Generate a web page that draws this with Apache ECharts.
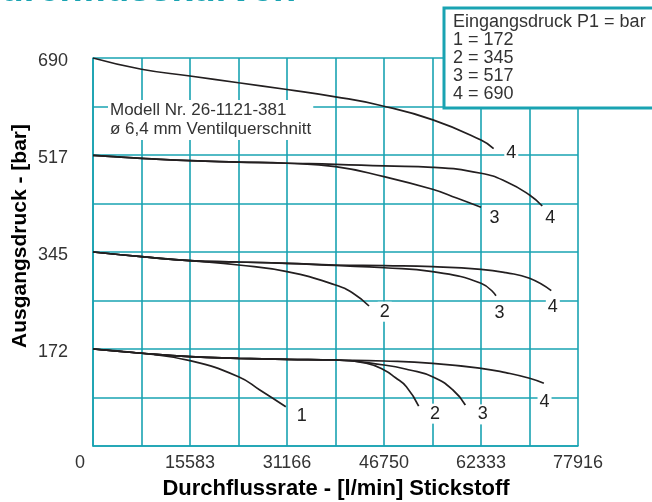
<!DOCTYPE html>
<html>
<head>
<meta charset="utf-8">
<script src="https://cdn.jsdelivr.net/npm/echarts@6/dist/echarts.min.js"></script>
<style>
  html, body { margin: 0; padding: 0; background: #fff; }
  #main { width: 652px; height: 502px; }
</style>
</head>
<body>
<div id="main"></div>
<script>
// Achsen
var xTickLabels = ['0', '15583', '31166', '46750', '62333', '77916']
var yTickLabels = ['', '172', '345', '517', '690']

// Kurven [Durchfluss l/min, Ausgangsdruck bar]
var p690_4 = [[0, 690], [7792, 670], [15583, 658], [23375, 646], [31166, 634], [38958, 621],
    [46060, 606], [54610, 580], [62333, 544], [64360, 529]]
var p517_4 = [[0, 517], [7792, 511.6], [15583, 507.4], [23375, 505], [31166, 502.8], [38958, 501],
    [46750, 498], [54541, 495.6], [62333, 485], [66395, 470], [70134, 446.4], [72170, 426.8]]
var p517_3 = [[0, 517], [7792, 511.6], [15583, 507.4], [23375, 505], [31166, 502.8], [38958, 496.7],
    [46750, 479], [54541, 456.5], [58420, 441], [62333, 424.5]]
var p345_4 = [[0, 345], [7792, 336.7], [15583, 329.5], [23375, 327.2], [31166, 324.9], [38958, 321.9],
    [46750, 320.6], [54541, 318.9], [62333, 314.2], [66314, 308.2], [70134, 298.2], [73617, 276.2]]
var p345_3 = [[0, 345], [7792, 336.7], [15583, 329.5], [23375, 327.2], [31166, 324.9], [38958, 321],
    [46750, 317], [54541, 310], [62333, 289.3], [64740, 267.3]]
var p345_2 = [[0, 345], [7792, 336.7], [15583, 329.5], [23375, 321.9], [31166, 310], [38958, 286.3],
    [41776, 271.6], [44344, 249]]
var p172_4 = [[0, 172.5], [7792, 164.9], [15583, 158.8], [23375, 156], [31166, 154.2], [38958, 152.9],
    [46750, 151.2], [54541, 147.1], [62333, 138.2], [66314, 130.4], [70134, 120.4], [72431, 111.5]]
var p172_3 = [[0, 172.5], [7792, 164.9], [15583, 158.8], [23375, 156], [31166, 154.2], [38958, 152.9],
    [46750, 144], [50875, 135.2], [54541, 123.2], [57825, 99.6], [59815, 72.9]]
var p172_2 = [[0, 172.5], [7792, 164.9], [15583, 158.8], [23375, 156], [31166, 154.2], [38958, 152.9],
    [43895, 147.1], [46750, 135.2], [48550, 121.8], [50346, 105.5], [52320, 71.1]]
var p172_1 = [[0, 172.5], [7792, 164.9], [15583, 151.7], [23375, 123.2], [26802, 99.6], [30975, 69.9]]

// Kurvennummern
var curveLabels = [
    {name: '4', value: [67197, 521.6]},
    {name: '3', value: [64517, 404.9]},
    {name: '4', value: [73456, 404.9]},
    {name: '2', value: [46863, 238.8]},
    {name: '3', value: [65319, 237.1]},
    {name: '4', value: [73873, 247.7]},
    {name: '1', value: [33550, 53.4]},
    {name: '2', value: [54940, 57.5]},
    {name: '3', value: [62600, 56.2]},
    {name: '4', value: [72541, 78.8]},
]

var legendLines = ['Eingangsdruck P1 = bar', '1 = 172', '2 = 345', '3 = 517', '4 = 690']

var teal = '#19a3b2'
var ink = '#231f20'
var font = 'Liberation Sans, Arial, sans-serif'

var curve = (data) => {
    return {
        type: 'line',
        data: data,
        showSymbol: false,
        smooth: 0.5,
        lineStyle: {color: ink, width: 1.7},
        z: 3,
    }
}

var chart = echarts.init(document.querySelector('#main'))

chart.setOption({
    animation: false,
    grid: {left: 93, right: 74, top: 58, bottom: 56},
    xAxis: {
        type: 'value',
        min: 0,
        max: 77916,
        interval: 7791.6,
        axisLine: {show: true, lineStyle: {color: teal, width: 1.6}},
        axisTick: {show: false},
        splitLine: {show: true, lineStyle: {color: teal, width: 1.6}},
        axisLabel: {
            margin: 8,
            fontFamily: font,
            fontSize: 18,
            color: '#333',
            formatter: (v, i) => {
                if (i % 2 !== 0) return ''
                if (i === 0) return '{o|' + xTickLabels[0] + '}'
                return xTickLabels[i / 2]
            },
            rich: {o: {fontFamily: font, fontSize: 18, color: '#333', padding: [0, 26, 0, 0]}},
        },
    },
    yAxis: {
        type: 'value',
        min: 0,
        max: 690,
        interval: 86.25,
        axisLine: {show: true, lineStyle: {color: teal, width: 1.6}},
        axisTick: {show: false},
        splitLine: {show: true, lineStyle: {color: teal, width: 1.6}},
        axisLabel: {
            margin: 25,
            fontFamily: font,
            fontSize: 18,
            color: '#333',
            formatter: (v, i) => (i % 2 === 0 && i > 0 ? '{t|' + yTickLabels[i / 2] + '}' : ''),
            rich: {t: {fontFamily: font, fontSize: 18, color: '#333', padding: [7, 0, 0, 0]}},
        },
    },
    series: [
        curve(p690_4),
        curve(p517_4), curve(p517_3),
        curve(p345_4), curve(p345_3), curve(p345_2),
        curve(p172_4), curve(p172_3), curve(p172_2), curve(p172_1),
        {
            type: 'scatter',
            data: curveLabels,
            symbolSize: 1,
            itemStyle: {color: 'rgba(0,0,0,0)'},
            z: 5,
            label: {
                show: true,
                position: 'inside',
                formatter: (p) => p.name,
                fontFamily: font,
                fontSize: 18,
                color: '#222',
                textBorderWidth: 0,
                opacity: 1,
                backgroundColor: '#fff',
                padding: [1, 2],
            },
        },
    ],
    graphic: [
        {
            type: 'text',
            x: -27, y: 10,
            style: {text: 'Durchflusskurven', font: 'bold 38px ' + font, fill: teal, verticalAlign: 'bottom'},
        },
        {
            type: 'rect',
            z: 100,
            shape: {x: 444, y: 8, width: 240, height: 100},
            style: {fill: '#fff', stroke: teal, lineWidth: 3},
        },
        {
            type: 'text',
            z: 101,
            x: 453, y: 13,
            style: {text: legendLines.join('\n'), font: '18px ' + font, lineHeight: 18, fill: '#333'},
        },
        {
            type: 'text',
            z: 50,
            x: 108, y: 100,
            style: {
                text: 'Modell Nr. 26-1121-381\nø 6,4 mm Ventilquerschnitt',
                font: '17px ' + font, lineHeight: 19, fill: '#333',
                backgroundColor: '#fff', padding: [1, 2],
            },
        },
        {
            type: 'text',
            x: 20, y: 236,
            rotation: Math.PI / 2,
            style: {text: 'Ausgangsdruck - [bar]', font: 'bold 21px ' + font, fill: '#000',
                align: 'center', verticalAlign: 'middle'},
        },
        {
            type: 'text',
            x: 336, y: 489,
            style: {text: 'Durchflussrate - [l/min] Stickstoff', font: 'bold 22px ' + font, fill: '#000',
                align: 'center', verticalAlign: 'middle'},
        },
    ],
})
</script>
</body>
</html>
